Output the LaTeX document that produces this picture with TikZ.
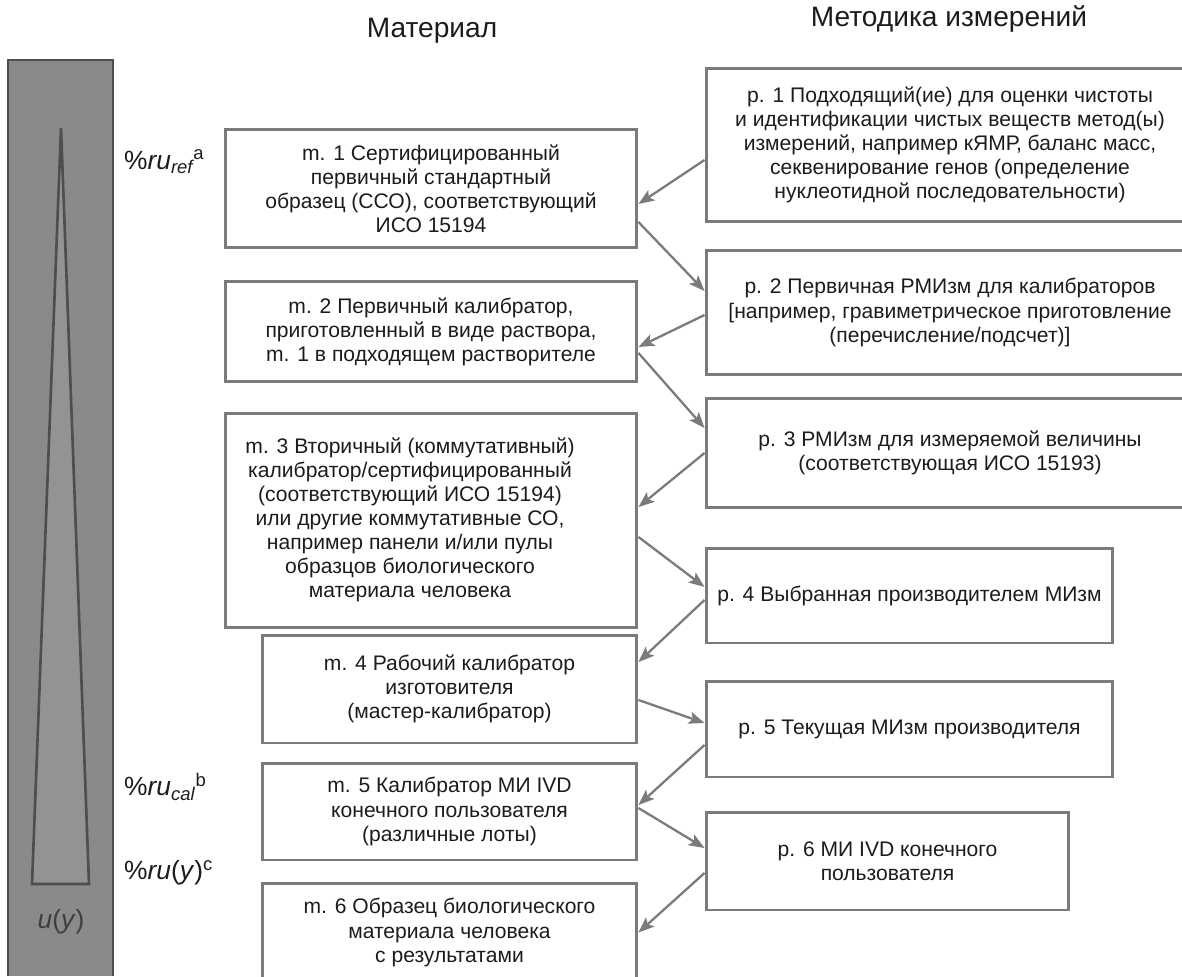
\documentclass[tikz,border=0pt]{standalone}
\usepackage{fontspec}
\setmainfont{Liberation Sans}
\usetikzlibrary{arrows.meta,positioning}
\definecolor{lngray}{HTML}{7B7B7B}
\definecolor{barfill}{HTML}{8A8A8A}
\definecolor{bardraw}{HTML}{4E4E4E}
\definecolor{txtblk}{HTML}{1C1C1C}

\begin{document}
\begin{tikzpicture}[x=0.02cm, y=-0.02cm,
  box/.style={draw=lngray, line width=1.7pt, align=center, inner sep=0pt,
              font=\fontsize{12}{13.7}\selectfont, text=txtblk},
  arr/.style={-{Stealth[length=9pt, width=7pt, inset=2pt]}, lngray, line width=1.3pt},
  hdr/.style={font=\fontsize{16}{19}\selectfont, text=txtblk, anchor=base},
  unc/.style={font=\fontsize{15}{18}\selectfont, text=txtblk, anchor=west},
]
\useasboundingbox (0,0) rectangle (1182,976);

%% ---- шкала неопределенности ----
\fill[barfill] (8,60) rectangle (113,976);
\draw[bardraw, line width=1.2pt] (8,976) -- (8,60) -- (113,60) -- (113,976);
\draw[bardraw, fill=barfill!92!white, line width=1.5pt, line join=miter]
  (61,128) -- (89,884) -- (32,884) -- cycle;
\node[font=\fontsize{15}{18}\selectfont, text=txtblk!85] (uy) at (61,922)
  {\textit{u}(\textit{y})};

%% ---- заголовки ----
\node[hdr] (hmat) at (432,38) {Материал};
\node[hdr] (hmet) at (949,27) {Методика измерений};

%% ---- уровни неопределенности ----
\node[unc] (uref) at (118,162) {\%\textit{ru}\textsubscript{\itshape ref}\textsuperscript{a}};
\node[unc] (ucal) at (118,787) {\%\textit{ru}\textsubscript{\itshape cal}\textsuperscript{b}};
\node[unc] (uyy) at (118,873) {\%\textit{ru}(\textit{y})\textsuperscript{c}};

%% ---- материалы (слева) ----
\node[box, minimum width=8.24cm, minimum height=2.38cm] (m1) at (431,188.5)
  {m. 1 Сертифицированный\\первичный стандартный\\образец (ССО), соответствующий\\ИСО 15194};
\node[box, minimum width=8.24cm, minimum height=2.02cm] (m2) at (431,331.5)
  {m. 2 Первичный калибратор,\\приготовленный в виде раствора,\\m. 1 в подходящем растворителе};
% текст m. 3 сдвинут влево
\node[box, minimum width=8.24cm, minimum height=4.30cm] (m3) at (431,520.5)
  {\begin{tabular}{@{}c@{}}m. 3 Вторичный (коммутативный)\\калибратор/сертифицированный\\
   (соответствующий ИСО 15194)\\или другие коммутативные СО,\\например панели и/или пулы\\
   образцов биологического\\материала человека\end{tabular}\hspace*{0.84cm}};
\node[box, minimum width=7.50cm, minimum height=2.16cm] (m4) at (449.5,689)
  {m. 4 Рабочий калибратор\\изготовителя\\(мастер-калибратор)};
\node[box, minimum width=7.50cm, minimum height=1.94cm] (m5) at (449.5,811.5)
  {m. 5 Калибратор МИ IVD\\конечного пользователя\\(различные лоты)};
\node[box, minimum width=7.50cm, minimum height=1.98cm] (m6) at (449.5,932.5)
  {m. 6 Образец биологического\\материала человека\\с результатами};

%% ---- методики (справа) ----
\node[box, minimum width=9.76cm, minimum height=3.08cm] (p1) at (950,145)
  {р. 1 Подходящий(ие) для оценки чистоты\\и идентификации чистых веществ метод(ы)\\
   измерений, например кЯМР, баланс масс,\\секвенирование генов (определение\\
   нуклеотидной последовательности)};
\node[box, minimum width=9.76cm, minimum height=2.50cm] (p2) at (950,312.5)
  {р. 2 Первичная РМИзм для калибраторов\\{[}например, гравиметрическое приготовление\\
   (перечисление/подсчет)]};
\node[box, minimum width=9.76cm, minimum height=2.20cm] (p3) at (950,453)
  {р. 3 РМИзм для измеряемой величины\\(соответствующая ИСО 15193)};
\node[box, minimum width=8.14cm, minimum height=1.90cm] (p4) at (909.5,595.5)
  {р. 4 Выбранная производителем МИзм};
\node[box, minimum width=8.14cm, minimum height=1.92cm] (p5) at (909.5,729)
  {р. 5 Текущая МИзм производителя};
\node[box, minimum width=7.26cm, minimum height=1.96cm] (p6) at (887.5,861)
  {р. 6 МИ IVD конечного\\пользователя};

%% ---- связи ----
\draw[arr] ([yshift=-0.30cm]p1.west) -- ([yshift=-0.31cm]m1.east);
\draw[arr] ([yshift=-0.67cm]m1.east) -- ([yshift=0.43cm]p2.west);
\draw[arr] ([yshift=-0.05cm]p2.west) -- ([yshift=-0.31cm]m2.east);
\draw[arr] ([yshift=-0.43cm]m2.east) -- ([yshift=0.50cm]p3.west);
\draw[arr] (p3.west) -- ([yshift=0.27cm]m3.east);
\draw[arr] ([yshift=-0.33cm]m3.east) -- ([yshift=0.17cm]p4.west);
\draw[arr] ([yshift=-0.09cm]p4.west) -- ([yshift=0.54cm]m4.east);
\draw[arr] ([yshift=-0.22cm]m4.east) -- ([yshift=0.12cm]p5.west);
\draw[arr] ([yshift=-0.32cm]p5.west) -- ([yshift=0.13cm]m5.east);
\draw[arr] ([yshift=0.07cm]m5.east) -- ([yshift=0.26cm]p6.west);
\draw[arr] ([yshift=-0.24cm]p6.west) -- (m6.east);

\end{tikzpicture}
\end{document}
